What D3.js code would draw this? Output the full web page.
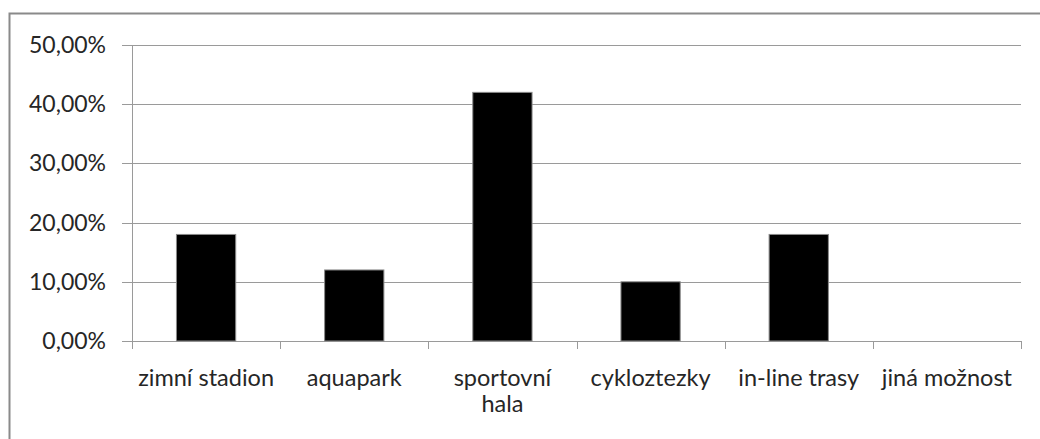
<!DOCTYPE html>
<html>
<head>
<meta charset="utf-8">
<script src="https://cdn.jsdelivr.net/npm/d3@7"></script>
<style>
  html, body { margin: 0; padding: 0; background: #fff; }
  svg { display: block; }
  text { font-family: Lato, "Noto Sans", sans-serif; fill: #262626; }
</style>
</head>
<body>
<svg id="chart" width="1040" height="439"></svg>
<script>
const categories = ['zimní stadion', 'aquapark', 'sportovní hala', 'cykloztezky', 'in-line trasy', 'jiná možnost']
const values = [0.18, 0.12, 0.42, 0.10, 0.18, 0]
const yTicks = [0, 0.1, 0.2, 0.3, 0.4, 0.5]
const yTickLabels = ['0,00%', '10,00%', '20,00%', '30,00%', '40,00%', '50,00%']

const svg = d3.select('#chart')
const margin = { left: 132, right: 1021, top: 45, bottom: 341 }

// outer frame (right/bottom edges fall outside the picture)
svg.append('rect')
  .attr('x', 9.5).attr('y', 13.5)
  .attr('width', 1040).attr('height', 440)
  .attr('fill', 'none')
  .attr('stroke', '#8a8a8a')
  .attr('stroke-width', 2)

const x = d3.scaleBand()
  .domain(categories)
  .range([margin.left, margin.right])

const y = d3.scaleLinear()
  .domain([0, 0.5])
  .range([margin.bottom, margin.top])

// gridlines
svg.append('g')
  .selectAll('line')
  .data(yTicks)
  .enter()
  .append('line')
  .attr('x1', margin.left - 10)
  .attr('x2', margin.right)
  .attr('y1', d => Math.round(y(d)) + 0.5)
  .attr('y2', d => Math.round(y(d)) + 0.5)
  .attr('stroke', '#9a9a9a')
  .attr('stroke-width', 1)

// y axis line
svg.append('line')
  .attr('x1', margin.left + 0.5).attr('x2', margin.left + 0.5)
  .attr('y1', margin.top).attr('y2', margin.bottom)
  .attr('stroke', '#9a9a9a')

// x category ticks
const xEdges = categories.map(c => x(c)).concat([margin.right])
svg.append('g')
  .selectAll('line')
  .data(xEdges)
  .enter()
  .append('line')
  .attr('x1', d => Math.round(d) + 0.5)
  .attr('x2', d => Math.round(d) + 0.5)
  .attr('y1', margin.bottom)
  .attr('y2', margin.bottom + 8)
  .attr('stroke', '#9a9a9a')

// y labels
svg.append('g')
  .selectAll('text')
  .data(yTicks)
  .enter()
  .append('text')
  .attr('x', 106)
  .attr('y', d => y(d))
  .attr('dy', '0.35em')
  .attr('text-anchor', 'end')
  .style('font-size', '23px')
  .text((d, i) => yTickLabels[i])

// bars
const bw = x.bandwidth()
svg.append('g')
  .selectAll('rect')
  .data(values)
  .enter()
  .append('rect')
  .attr('x', (d, i) => x(categories[i]) + bw * 0.3)
  .attr('width', bw * 0.4)
  .attr('y', d => y(d))
  .attr('height', d => y(0) - y(d))
  .attr('fill', '#000')
  .attr('stroke', '#8a8a8a')
  .attr('stroke-width', d => d > 0 ? 1 : 0)

// x labels, wrapped where the label nearly fills its slot
const labels = svg.append('g')
  .selectAll('text')
  .data(categories)
  .enter()
  .append('text')
  .attr('x', d => x(d) + bw / 2)
  .attr('y', 386)
  .attr('text-anchor', 'middle')
  .style('font-size', '23.5px')

labels.each(function (d) {
  const t = d3.select(this)
  t.text(d)
  if (this.getComputedTextLength() > bw - 8) {
    const words = d.split(' ')
    t.text(null)
    words.forEach((w, i) => {
      t.append('tspan')
        .attr('x', x(d) + bw / 2)
        .attr('dy', i === 0 ? 0 : 26)
        .text(w)
    })
  }
})
</script>
</body>
</html>
